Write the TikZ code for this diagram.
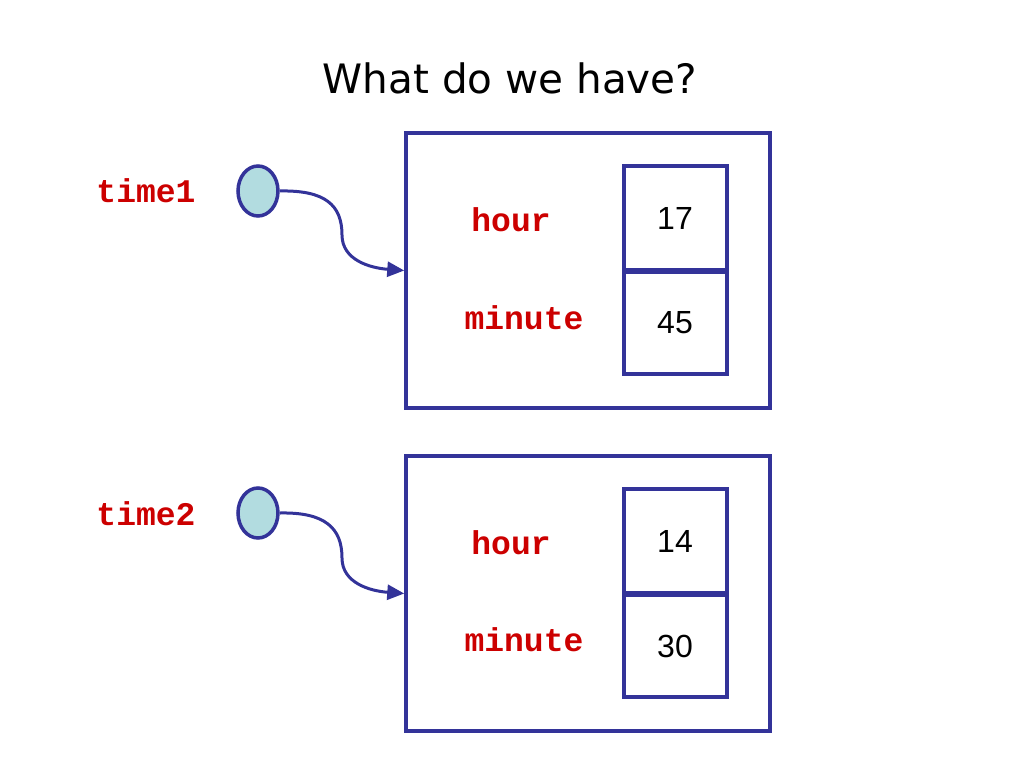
\documentclass[tikz,border=0pt]{standalone}
\usepackage{fontspec}
\setmainfont{Liberation Sans}
\setmonofont{Liberation Mono}
\newfontfamily\titlefont{DejaVu Sans}
\usetikzlibrary{shapes.geometric,arrows.meta}
\definecolor{frameblue}{RGB}{51,51,153}
\definecolor{labelred}{RGB}{204,0,0}
\definecolor{ballfill}{RGB}{178,220,224}
\tikzset{
  outerbox/.style={draw=frameblue,line width=3.5pt,minimum width=364pt,minimum height=275pt,inner sep=0pt},
  cell/.style={draw=frameblue,line width=3.5pt,minimum width=103pt,minimum height=104pt,inner sep=0pt},
  ball/.style={ellipse,draw=frameblue,fill=ballfill,line width=3.5pt,minimum width=40pt,minimum height=50pt,inner sep=0pt},
  varlabel/.style={text=labelred,font=\ttfamily\bfseries\fontsize{33}{36}\selectfont,inner sep=0pt},
  numlabel/.style={font=\fontsize{32}{36}\selectfont,inner sep=0pt},
  pointer/.style={draw=frameblue,line width=3pt,-{Triangle[length=17pt,width=15pt]}},
  divider/.style={draw=frameblue,line width=5pt}
}
\begin{document}
\begin{tikzpicture}[x=1pt,y=-1pt]
\useasboundingbox (0,0) rectangle (1024,768);
\node[font=\titlefont\fontsize{40.5}{46}\selectfont,inner sep=0pt] (title) at (510,78) {What do we have?};
% first object
\node[outerbox] (box1) at (588,270.5) {};
\node[cell] (h1) at (675.5,218) {};
\node[cell] (m1) at (675.5,322) {};
\draw[divider] (h1.south west) -- (h1.south east);
\node[varlabel] (hl1) at (511,220) {hour};
\node[varlabel] (ml1) at (524,318) {minute};
\node[numlabel] (hv1) at (675,218) {17};
\node[numlabel] (mv1) at (675,323) {45};
\node[varlabel] (t1) at (146,191) {time1};
\node[ball] (c1) at (258,191) {};
\draw[pointer] (c1.east) .. controls (325,190) and (342,205) .. (342,235) .. controls (342,260) and (370,268) .. (box1.west);
% second object
\node[outerbox] (box2) at (588,593.5) {};
\node[cell] (h2) at (675.5,541) {};
\node[cell] (m2) at (675.5,645) {};
\draw[divider] (h2.south west) -- (h2.south east);
\node[varlabel] (hl2) at (511,543) {hour};
\node[varlabel] (ml2) at (524,640) {minute};
\node[numlabel] (hv2) at (675,541) {14};
\node[numlabel] (mv2) at (675,646) {30};
\node[varlabel] (t2) at (146,514) {time2};
\node[ball] (c2) at (258,513) {};
\draw[pointer] (c2.east) .. controls (325,512) and (342,528) .. (342,558) .. controls (342,583) and (370,591) .. (box2.west);
\end{tikzpicture}
\end{document}
